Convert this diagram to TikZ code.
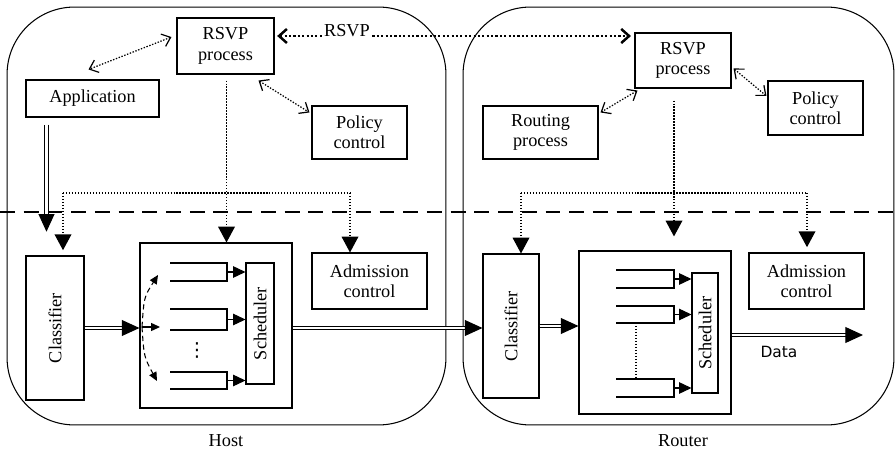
\documentclass[tikz,border=0pt]{standalone}
\usepackage{fontspec}
\setmainfont{Liberation Serif}
\newfontfamily\datafont{DejaVu Sans}
\usepackage{tikz}
\usetikzlibrary{arrows.meta,positioning,calc}

\begin{document}
\begin{tikzpicture}[x=0.02cm,y=-0.02cm,
    font=\fontsize{10.4}{11.5}\selectfont,
    box/.style={draw,line width=0.6pt,align=center,inner sep=0pt},
    vbox/.style={box,rotate=90},
    sig/.style={line width=0.7pt,dash pattern=on 0.8pt off 0.9pt},
    sigboth/.style={sig,{Straight Barb[length=4.5pt,width=7.5pt]}-{Straight Barb[length=4.5pt,width=7.5pt]}},
    rsvpmsg/.style={line width=1.4pt,dash pattern=on 1.2pt off 1.3pt,{Straight Barb[length=4.5pt,width=8pt]}-{Straight Barb[length=4.5pt,width=8pt]}},
    ctl/.style={sig,-{Triangle[length=9pt,width=9.5pt]}},
    flow/.style={line width=0.6pt,double,double distance=1.6pt,-{Triangle[length=10pt,width=9pt]}},
    qline/.style={line width=0.6pt},
    qin/.style={line width=0.6pt,-{Triangle[length=7pt,width=6.5pt]}},
    fan/.style={line width=0.6pt,dash pattern=on 3pt off 2pt,-{Triangle[length=5pt,width=4.5pt]}}]
  \useasboundingbox (0,0) rectangle (896,449);
  \node[draw,line width=0.6pt,rounded corners=1.35cm,minimum width=8.78cm,minimum height=8.36cm] (host) at (226.5,216) {};
  \node[draw,line width=0.6pt,rounded corners=1.35cm,minimum width=8.62cm,minimum height=8.36cm] (router) at (678.5,216) {};
  \draw[line width=1.1pt,dash pattern=on 8.5pt off 5pt] (0,212) -- (896,212);
  \node (hostlbl) at (226,441) {Host};
  \node (routlbl) at (683,441) {Router};

  \node[box,minimum width=1.94cm,minimum height=1.12cm] (rsvpH) at (225.5,46) {RSVP\\process};
  \node[box,minimum width=2.66cm,minimum height=0.74cm] (app) at (92.5,98.5) {Application};
  \node[box,minimum width=1.9cm,minimum height=1.06cm] (polH) at (359.5,132.5) {Policy\\control};
  \node[vbox,minimum width=2.88cm,minimum height=1.16cm] (clsH) at (55,328) {Classifier};
  \node[box,minimum width=3.04cm,minimum height=3.3cm] (boxH) at (216,325.5) {};
  \node[vbox,minimum width=2.42cm,minimum height=0.56cm] (schH) at (260,323.5) {Scheduler};
  \node[box,minimum width=2.3cm,minimum height=1.12cm] (admH) at (369.5,281) {Admission\\control};
  \node[font=\datafont\fontsize{11}{12}\selectfont] (dotsH) at (197,350) {⋮};

  \node[box,minimum width=1.92cm,minimum height=1.1cm] (rsvpR) at (683,60.5) {RSVP\\process};
  \node[box,minimum width=2.3cm,minimum height=1.06cm] (routR) at (540.5,132.5) {Routing\\process};
  \node[box,minimum width=1.9cm,minimum height=1.08cm] (polR) at (815.5,108) {Policy\\control};
  \node[vbox,minimum width=2.88cm,minimum height=1.12cm] (clsR) at (511,326) {Classifier};
  \node[box,minimum width=3.04cm,minimum height=3.26cm] (boxR) at (655,332.5) {};
  \node[vbox,minimum width=2.4cm,minimum height=0.52cm] (schR) at (705,333) {Scheduler};
  \node[box,minimum width=2.3cm,minimum height=1.12cm] (admR) at (806.5,281) {Admission\\control};
  \node[font=\datafont\fontsize{8.8}{10}\selectfont] (datalbl) at (779,352) {Data};

  \coordinate (rsvpy) at (0,36);
  \draw[rsvpmsg,shorten <=1.5pt,shorten >=2pt] (rsvpH.east |- rsvpy) -- (rsvpR.west |- rsvpy);
  \node[fill=white,inner sep=1pt] (rsvplbl) at (347,31) {RSVP};
  \draw[sigboth] ($(rsvpH.west)+(-5,-9)$) -- ($(app.north)+(-4,-10)$);
  \draw[sigboth] ($(rsvpH.south east)+(-16,6)$) -- ($(polH.north west)+(-2,7)$);
  \draw[sigboth] ($(rsvpR.south west)+(3,2)$) -- ($(routR.north east)+(2,7)$);
  \draw[sigboth] ($(rsvpR.east)+(2,8)$) -- ($(polR.west)+(-1,-12)$);

  \coordinate (vH) at ($(rsvpH.south)+(1,6)$);
  \draw[ctl] (vH) -- (vH |- boxH.north);
  \coordinate (brHl) at (63,193);
  \coordinate (brHr) at (350,193);
  \draw[sig] (brHl) -- (brHr);
  \draw[ctl,shorten >=3pt] (brHl) -- (brHl |- clsH.east);
  \draw[ctl] (brHr) -- (brHr |- admH.north);

  \coordinate (vR) at ($(rsvpR.south)+(-9,12)$);
  \draw[ctl,shorten >=8pt] (vR) -- (vR |- boxR.north);
  \coordinate (brRl) at (521,193);
  \coordinate (brRr) at (807,193);
  \draw[sig] (brRl) -- (brRr);
  \draw[ctl] (brRl) -- (brRl |- clsR.east);
  \draw[ctl,shorten >=3pt] (brRr) -- (brRr |- admR.north);

  \coordinate (appout) at ($(app.south west)+(21,7)$);
  \draw[flow,shorten >=13.5pt] (appout) -- (appout |- clsH.east);
  \draw[flow] (clsH.south) -- (clsH.south -| boxH.west);
  \draw[flow] (clsH.south -| boxH.east) -- (clsH.south -| clsR.north);
  \draw[flow] (clsR.south) -- (clsR.south -| boxR.west);
  \coordinate (dataend) at (863,335);
  \draw[flow] (dataend -| boxR.east) -- (dataend);

  \draw[qline] (170,263) -- (227,263) -- (227,281) -- (170,281);
  \draw[qline] (170,309) -- (227,309) -- (227,330) -- (170,330);
  \draw[qline] (170,372) -- (227,372) -- (227,389) -- (170,389);
  \coordinate (qH1) at (227,272);
  \coordinate (qH2) at (227,319.5);
  \coordinate (qH3) at (227,380.5);
  \draw[qin] (qH1) -- (qH1 -| schH.north);
  \draw[qin] (qH2) -- (qH2 -| schH.north);
  \draw[qin] (qH3) -- (qH3 -| schH.north);
  \coordinate (fanH) at (142,327);
  \draw[fan] (fanH) .. controls (144,297) .. (158,275);
  \draw[fan] (fanH) .. controls (144,357) .. (157,381);
  \draw[qin,-{Triangle[length=5pt,width=4.5pt]}] (fanH) -- (160,327);

  \draw[qline] (616,270) -- (674,270) -- (674,288) -- (616,288);
  \draw[qline] (616,306) -- (674,306) -- (674,323) -- (616,323);
  \draw[qline] (616,379) -- (674,379) -- (674,397) -- (616,397);
  \coordinate (qR1) at (674,279);
  \coordinate (qR2) at (674,314.5);
  \coordinate (qR3) at (674,388);
  \draw[qin] (qR1) -- (qR1 -| schR.north);
  \draw[qin] (qR2) -- (qR2 -| schR.north);
  \draw[qin] (qR3) -- (qR3 -| schR.north);
  \draw[sig] (636,323) -- (636,379);
\end{tikzpicture}
\end{document}
